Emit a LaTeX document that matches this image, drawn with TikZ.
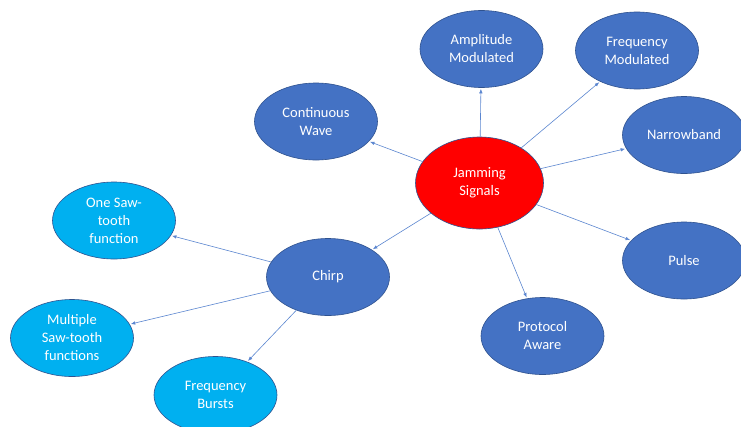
\documentclass[tikz,border=0pt]{standalone}
\usepackage{fontspec}
\setmainfont{Carlito}
\usetikzlibrary{shapes.geometric,arrows.meta}
\definecolor{dblue}{HTML}{4472C4}
\definecolor{lblue}{HTML}{00B0F0}
\definecolor{edgeblue}{HTML}{2F528F}
\definecolor{jred}{HTML}{FF0000}
\definecolor{linkblue}{HTML}{5B86D0}
\tikzset{
  bubble/.style={ellipse, draw=edgeblue, line width=0.6pt, fill=dblue, text=white,
    minimum width=123pt, minimum height=77pt, inner sep=0pt, align=center,
    font=\fontsize{14.5}{18}\selectfont},
  lbubble/.style={bubble, fill=lblue},
  rbubble/.style={bubble, fill=jred, minimum width=128pt, minimum height=92pt},
  link/.style={draw=linkblue, line width=0.6pt, shorten >=1pt, -{Latex[length=4.5pt,width=3.5pt]}}
}
\begin{document}
\begin{tikzpicture}[x=1pt,y=-1pt]
\clip (0,0) rectangle (741,426);
\fill[white] (0,0) rectangle (741,426);
\node[rbubble] (jam) at (479.5,183) {Jamming\\Signals};
\node[bubble] (am) at (481.5,49) {Amplitude\\Modulated};
\node[bubble] (fm) at (637,50.5) {Frequency\\Modulated};
\node[bubble] (nb) at (684,135) {Narrowband};
\node[bubble] (cw) at (316,121.5) {Continuous\\Wave};
\node[bubble] (pu) at (684,260.5) {Pulse};
\node[bubble] (pa) at (542.5,336) {Protocol\\Aware};
\node[bubble] (ch) at (328,277) {Chirp};
\node[lbubble] (os) at (114,220.5) {One Saw-\\tooth\\function};
\node[lbubble] (ms) at (72,338) {Multiple\\Saw-tooth\\functions};
\node[lbubble] (fb) at (215.5,395) {Frequency\\Bursts};
\path[link] (jam) -- (am);
\path[link] (jam) -- (fm);
\path[link] (jam) -- (nb);
\path[link] (jam) -- (cw);
\path[link] (jam) -- (pu);
\path[link] (jam) -- (pa);
\path[link] (jam) -- (ch);
\path[link] (ch) -- (os);
\path[link] (ch) -- (ms);
\path[link] (ch) -- (fb);
\end{tikzpicture}
\end{document}
